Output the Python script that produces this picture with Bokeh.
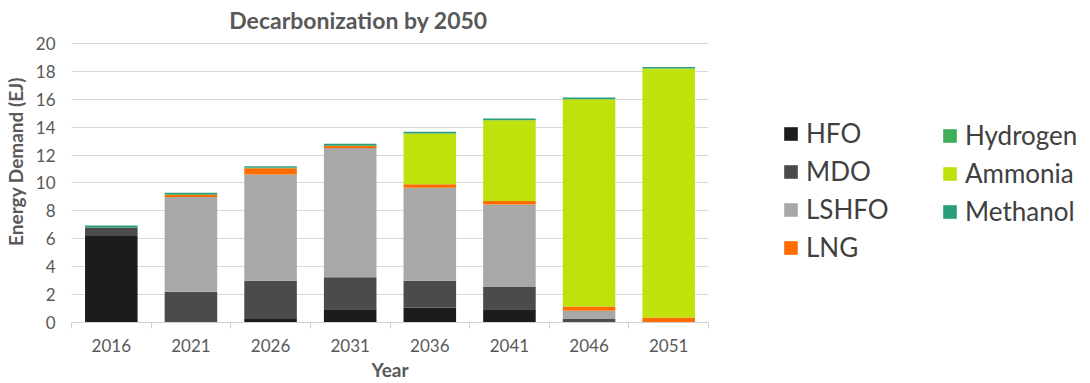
from bokeh.plotting import figure
from bokeh.models import Range1d, FixedTicker, Legend, LegendItem, Label
from bokeh.layouts import row
from bokeh.embed import file_html
from bokeh.resources import INLINE

years = ["2016", "2021", "2026", "2031", "2036", "2041", "2046", "2051"]
fuels = ["HFO", "MDO", "LSHFO", "LNG", "Hydrogen", "Ammonia", "Methanol"]
hfo      = [6.20, 0.00, 0.25, 0.95, 1.05, 0.95, 0.00, 0.00]
mdo      = [0.60, 2.20, 2.75, 2.30, 1.95, 1.60, 0.25, 0.00]
lshfo    = [0.00, 6.80, 7.60, 9.25, 6.65, 5.90, 0.60, 0.00]
lng      = [0.00, 0.15, 0.45, 0.15, 0.25, 0.25, 0.30, 0.35]
hydrogen = [0.00, 0.05, 0.05, 0.05, 0.00, 0.00, 0.00, 0.00]
ammonia  = [0.00, 0.00, 0.00, 0.00, 3.65, 5.80, 14.85, 17.85]
methanol = [0.15, 0.10, 0.10, 0.10, 0.12, 0.12, 0.12, 0.10]
y_ticks = [0, 2, 4, 6, 8, 10, 12, 14, 16, 18, 20]
title_text = "Decarbonization by 2050"

colors = ["#1c1c1c", "#4b4b4b", "#a8a8a8", "#ff6c00", "#3fae5a", "#c0e20c", "#2a9d7e"]
TXT = "#595959"
FONT = "Lato"

data = {"x": list(range(len(years))), "HFO": hfo, "MDO": mdo, "LSHFO": lshfo,
        "LNG": lng, "Hydrogen": hydrogen, "Ammonia": ammonia, "Methanol": methanol}

# frame spans the full height above the x axis; 0..20 occupies the lower 280 px
y_max = y_ticks[-1]
y_top = y_max * 323 / 280

p = figure(width=715, height=383, x_range=Range1d(-0.5, len(years) - 0.5),
           y_range=Range1d(0, y_top), output_backend="svg", toolbar_location=None,
           min_border_left=65, min_border_right=7, min_border_top=0,
           min_border_bottom=60)
p.outline_line_color = None

rs = p.vbar_stack(fuels, x="x", width=0.66, source=data, color=colors, line_color=None)

# axes
p.xaxis.ticker = FixedTicker(ticks=list(range(len(years))),
                             minor_ticks=[i - 0.5 for i in range(len(years) + 1)])
p.xaxis.major_label_overrides = {i: y for i, y in enumerate(years)}
p.xaxis.major_tick_line_color = None
p.xaxis.major_tick_out = 0
p.xaxis.major_tick_in = 0
p.xaxis.minor_tick_out = 6
p.xaxis.minor_tick_in = 0
p.xaxis.minor_tick_line_color = "#d0d0d0"
p.xaxis.axis_line_color = "#d0d0d0"
p.xaxis.major_label_standoff = 10
p.xaxis.axis_label = "Year"
p.xaxis.axis_label_standoff = 3

p.yaxis.ticker = FixedTicker(ticks=y_ticks)
p.yaxis.bounds = (0, y_max)
p.yaxis.axis_line_color = None
p.yaxis.major_tick_line_color = None
p.yaxis.minor_tick_line_color = None
p.yaxis.major_label_standoff = 10
p.yaxis.axis_label = "Energy Demand (EJ)"
p.yaxis.axis_label_standoff = 6

for ax in (p.xaxis, p.yaxis):
    ax.major_label_text_font = FONT
    ax.major_label_text_font_size = "17px"
    ax.major_label_text_color = TXT
    ax.axis_label_text_font = FONT
    ax.axis_label_text_font_size = "19px"
    ax.axis_label_text_font_style = "bold"
    ax.axis_label_text_color = TXT

p.xgrid.grid_line_color = None
p.ygrid.grid_line_color = "#d9d9d9"
p.ygrid.grid_line_width = 1

title = Label(x=287, y=303, x_units="screen", y_units="screen", text=title_text,
              text_align="center", text_baseline="middle", text_font=FONT,
              text_font_size="23px", text_font_style="bold", text_color=TXT)
p.add_layout(title)

# legend panel
q = figure(width=375, height=383, x_range=Range1d(0, 1), y_range=Range1d(0, 1),
           output_backend="svg", toolbar_location=None,
           x_axis_location=None, y_axis_location=None,
           min_border_left=0, min_border_right=0, min_border_top=0,
           min_border_bottom=0)
q.grid.visible = False
q.outline_line_color = None
offscreen = {"x": [-10], "y": [-10]}
dummies = [q.rect(x="x", y="y", width=1, height=1, source=offscreen, color=c, line_color=None)
           for c in colors]

def make_legend(idx, loc):
    items = [LegendItem(label=fuels[i], renderers=[dummies[i]]) for i in idx]
    lg = Legend(items=items, location=loc, orientation="vertical",
                glyph_width=17, glyph_height=17, label_standoff=7,
                label_height=30, spacing=6, padding=0, margin=0,
                border_line_color=None, background_fill_alpha=0,
                label_text_font=FONT, label_text_font_size="26px",
                label_text_color="#404040")
    q.add_layout(lg)

make_legend([0, 1, 2, 3], (67, 59))
make_legend([4, 5, 6], (226, 95))

layout = row(p, q)
open("out.html", "w").write(file_html(layout, INLINE))
